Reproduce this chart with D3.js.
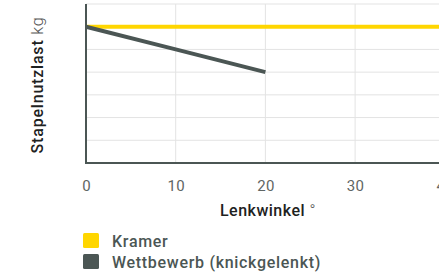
<!DOCTYPE html>
<html><head><meta charset="utf-8">
<script src="https://cdn.jsdelivr.net/npm/d3@7"></script>
<style>html,body{margin:0;padding:0;background:#fff;overflow:hidden}</style>
</head><body>
<svg id="c" width="439" height="274"></svg>
<script>
const xTicks = [0, 10, 20, 30, 40];
const yGrid = [1, 2, 3, 4, 5, 6, 7];
const seriesNames = ["Kramer", "Wettbewerb (knickgelenkt)"];
const seriesColors = ["#FFD600", "#4B5654"];
const kramerX = [0, 40];
const kramerY = [6, 6];
const wettX = [0, 10, 20];
const wettY = [6, 5, 4];

const svg = d3.select("#c");
const pLeft = 86, pTop = 4, pBottom = 163;
const x = d3.scaleLinear().domain([0, 40]).range([pLeft, 444.8]);
const y = d3.scaleLinear().domain([0, 7]).range([pBottom, pTop]);
const font = "Roboto, 'Liberation Sans', sans-serif";

// grid
svg.append("g").selectAll("line").data(yGrid).join("line")
  .attr("x1", pLeft).attr("x2", 439).attr("y1", d => y(d)).attr("y2", d => y(d))
  .attr("stroke", "#e3e3e3").attr("stroke-width", 1);
svg.append("g").selectAll("line").data(xTicks.filter(d => d > 0)).join("line")
  .attr("x1", d => x(d)).attr("x2", d => x(d)).attr("y1", pTop).attr("y2", pBottom)
  .attr("stroke", "#e3e3e3").attr("stroke-width", 1);

// lines
const line = d3.line().x(d => x(d[0])).y(d => y(d[1]));
svg.append("path").datum(kramerX.map((v, i) => [v, kramerY[i]]))
  .attr("d", line).attr("fill", "none").attr("stroke", seriesColors[0]).attr("stroke-width", 4);
svg.append("path").datum(wettX.map((v, i) => [v, wettY[i]]))
  .attr("d", line).attr("fill", "none").attr("stroke", seriesColors[1]).attr("stroke-width", 4);

// axes
svg.append("line").attr("x1", pLeft).attr("x2", pLeft).attr("y1", pTop).attr("y2", pBottom + 1)
  .attr("stroke", "#4B5654").attr("stroke-width", 2);
svg.append("line").attr("x1", pLeft - 1).attr("x2", 439).attr("y1", pBottom).attr("y2", pBottom)
  .attr("stroke", "#4B5654").attr("stroke-width", 2);

// x tick labels
const xAxis = d3.axisBottom(x).tickValues(xTicks).tickSize(0).tickPadding(0);
const gx = svg.append("g").attr("transform", `translate(0,${pBottom})`).call(xAxis);
gx.select(".domain").remove();
gx.selectAll("text").attr("y", 28).attr("dy", 0).attr("fill", "#5f6664")
  .style("font-family", font).style("font-size", "15px").style("letter-spacing", "0.3px");

// x label
const xl = svg.append("text").attr("x", 268).attr("y", 216).attr("text-anchor", "middle")
  .style("font-family", font).style("font-size", "16px").attr("fill", "#1e2221")
  .style("letter-spacing", "0.5px");
xl.append("tspan").text("Lenkwinkel").style("font-weight", "500");
xl.append("tspan").text(" °").attr("fill", "#555").style("font-weight", "300");

// y label
const yl = svg.append("text").attr("transform", "translate(43,85) rotate(-90)")
  .attr("text-anchor", "middle")
  .style("font-family", font).style("font-size", "16px").attr("fill", "#1e2221")
  .style("letter-spacing", "0.8px");
yl.append("tspan").text("Stapelnutzlast").style("font-weight", "500");
yl.append("tspan").text(" kg").attr("fill", "#555").style("font-weight", "300");

// legend
const lg = svg.append("g").selectAll("g").data(seriesNames).join("g")
  .attr("transform", (d, i) => `translate(83,${233 + i * 21})`);
lg.append("rect").attr("width", 16).attr("height", 15).attr("rx", 1.5)
  .attr("fill", (d, i) => seriesColors[i]);
lg.append("text").attr("x", 29).attr("y", 14).text(d => d)
  .style("font-family", font).style("font-size", "16px").attr("fill", "#4B5654")
  .style("font-weight", "500").style("letter-spacing", "0.7px");
</script>
</body></html>
